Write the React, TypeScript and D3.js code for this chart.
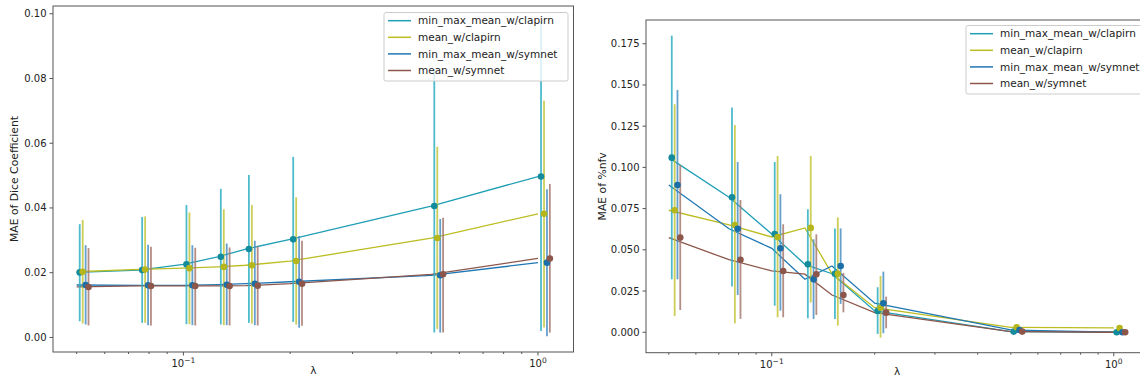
import React from "react";
import * as d3 from "d3";

const lambdas = [0.05, 0.075, 0.1, 0.125, 0.15, 0.2, 0.5, 1.0];
const seriesNames = ["min_max_mean_w/clapirn", "mean_w/clapirn", "min_max_mean_w/symnet", "mean_w/symnet"];

// Left panel: MAE of Dice Coefficient
const diceMinMaxClapirn = [0.0201, 0.0208, 0.0226, 0.0249, 0.0273, 0.0303, 0.0406, 0.0497];
const diceMinMaxClapirnLo = [0.005, 0.0045, 0.0041, 0.004, 0.0045, 0.0048, 0.0015, 0.002];
const diceMinMaxClapirnHi = [0.035, 0.0372, 0.0409, 0.0459, 0.0502, 0.0558, 0.083, 0.0976];
const diceMeanClapirn = [0.0203, 0.021, 0.0214, 0.0218, 0.0223, 0.0236, 0.0307, 0.0382];
const diceMeanClapirnLo = [0.0043, 0.0045, 0.0041, 0.0038, 0.0043, 0.004, 0.0026, 0.0031];
const diceMeanClapirnHi = [0.0363, 0.0374, 0.0386, 0.0396, 0.0409, 0.0433, 0.0589, 0.0731];
const diceMinMaxSymnet = [0.0162, 0.0161, 0.0161, 0.0163, 0.0166, 0.0172, 0.0192, 0.0231];
const diceMinMaxSymnetLo = [0.004, 0.0038, 0.0038, 0.0038, 0.0038, 0.003, 0.0015, 0.0004];
const diceMinMaxSymnetHi = [0.0285, 0.0286, 0.0285, 0.029, 0.0299, 0.0313, 0.0366, 0.0458];
const diceMeanSymnet = [0.0156, 0.0159, 0.0159, 0.0159, 0.016, 0.0166, 0.0195, 0.0244];
const diceMeanSymnetLo = [0.0037, 0.0037, 0.0037, 0.0037, 0.0037, 0.0036, 0.0015, 0.0015];
const diceMeanSymnetHi = [0.0276, 0.028, 0.0277, 0.0278, 0.0282, 0.0299, 0.037, 0.0474];

// Right panel: MAE of %nfv
const nfvMinMaxClapirn = [0.1059, 0.0819, 0.0596, 0.0412, 0.0355, 0.0129, 0.0004, 0.0];
const nfvMinMaxClapirnLo = [0.0321, 0.0277, 0.0161, 0.0085, 0.0081, -0.001, 0.0, 0.0];
const nfvMinMaxClapirnHi = [0.1799, 0.1364, 0.1033, 0.0746, 0.063, 0.0273, 0.0008, 0.0];
const nfvMeanClapirn = [0.074, 0.0651, 0.0578, 0.0633, 0.0355, 0.0149, 0.003, 0.0026];
const nfvMeanClapirnLo = [0.0099, 0.0054, 0.0091, 0.018, 0.004, -0.0033, 0.0018, 0.0016];
const nfvMeanClapirnHi = [0.1383, 0.1257, 0.1069, 0.1069, 0.0697, 0.0341, 0.0042, 0.0036];
const nfvMinMaxSymnet = [0.0893, 0.0628, 0.0509, 0.0321, 0.0402, 0.0176, 0.0014, 0.0];
const nfvMinMaxSymnetLo = [0.0321, 0.0226, 0.0131, 0.0081, 0.0172, -0.0006, 0.0008, 0.0];
const nfvMinMaxSymnetHi = [0.147, 0.1033, 0.0837, 0.0564, 0.063, 0.0368, 0.002, 0.0];
const nfvMeanSymnet = [0.0574, 0.044, 0.0372, 0.0352, 0.0226, 0.0119, 0.0004, 0.0];
const nfvMeanSymnetLo = [0.0135, 0.0081, 0.0091, 0.0105, 0.0121, 0.0024, 0.0, 0.0];
const nfvMeanSymnetHi = [0.1015, 0.0802, 0.0655, 0.0594, 0.036, 0.0216, 0.0008, 0.0];

const jitter = [1.02, 1.04, 1.06, 1.08];
const diceTicks = [0, 0.02, 0.04, 0.06, 0.08, 0.1];
const nfvTicks = [0, 0.025, 0.05, 0.075, 0.1, 0.125, 0.15, 0.175];

const lineColors = ["#1f9fb5", "#bcbd22", "#1f77b4", "#8c564b"];
const markerColors = ["#128b9c", "#b5b61c", "#1a6fa9", "#8c564b"];
const barColors = ["#2fb0c4", "#c5c63a", "#4a90c4", "#a77a70"];

const FONT = "DejaVu Sans, sans-serif";

type S = { mean: number[]; lo: number[]; hi: number[] };

const diceSeries: S[] = [
  { mean: diceMinMaxClapirn, lo: diceMinMaxClapirnLo, hi: diceMinMaxClapirnHi },
  { mean: diceMeanClapirn, lo: diceMeanClapirnLo, hi: diceMeanClapirnHi },
  { mean: diceMinMaxSymnet, lo: diceMinMaxSymnetLo, hi: diceMinMaxSymnetHi },
  { mean: diceMeanSymnet, lo: diceMeanSymnetLo, hi: diceMeanSymnetHi },
];
const nfvSeries: S[] = [
  { mean: nfvMinMaxClapirn, lo: nfvMinMaxClapirnLo, hi: nfvMinMaxClapirnHi },
  { mean: nfvMeanClapirn, lo: nfvMeanClapirnLo, hi: nfvMeanClapirnHi },
  { mean: nfvMinMaxSymnet, lo: nfvMinMaxSymnetLo, hi: nfvMinMaxSymnetHi },
  { mean: nfvMeanSymnet, lo: nfvMeanSymnetLo, hi: nfvMeanSymnetHi },
];

function Panel(props: {
  left: number; right: number; top: number; bottom: number;
  series: S[]; yTicks: number[]; yFmt: (v: number) => string; yLabel: string; yLabelOff: number;
  yDomain: [number, number]; legend: { x: number; y: number; w: number };
}) {
  const { left, right, top, bottom, series, yTicks, yFmt, yLabel, yLabelOff, yDomain, legend } = props;
  const logMin = Math.log10(0.05), logMax = Math.log10(1.08);
  const span = logMax - logMin;
  const x = d3.scaleLog().domain([Math.pow(10, logMin - 0.05 * span), Math.pow(10, logMax + 0.05 * span)]).range([left, right]);
  const y = d3.scaleLinear().domain(yDomain).range([bottom, top]);
  const clipId = "clip" + left;
  const minor: number[] = [];
  for (const dec of [0.01, 0.1]) for (let k = 2; k <= 9; k++) {
    const v = k * dec;
    if (v >= x.domain()[0] && v <= x.domain()[1]) minor.push(v);
  }
  const line = d3.line<number>().x((_, i) => x(lambdas[i])).y((d) => y(d));
  const cx = (left + right) / 2;
  const cy = (top + bottom) / 2;
  return (
    <g>
      <g clipPath={`url(#${clipId})`}>
        <clipPath id={clipId}><rect x={left} y={top} width={right - left} height={bottom - top} /></clipPath>
        {series.map((s, si) => (
          <path key={"l" + si} d={line(s.mean) || ""} fill="none" stroke={lineColors[si]} strokeWidth={1.3} />
        ))}
        {series.map((s, si) => (
          <g key={"e" + si}>
            {lambdas.map((l, i) => (
              <line key={i} x1={x(l * jitter[si])} x2={x(l * jitter[si])} y1={y(s.lo[i])} y2={y(s.hi[i])}
                stroke={barColors[si]} strokeWidth={1.8} opacity={0.85} />
            ))}
          </g>
        ))}
        {series.map((s, si) => (
          <g key={"m" + si}>
            {lambdas.map((l, i) => (
              <circle key={i} cx={x(l * jitter[si])} cy={y(s.mean[i])} r={3.3} fill={markerColors[si]} />
            ))}
          </g>
        ))}
      </g>
      <rect x={left} y={top} width={right - left} height={bottom - top} fill="none" stroke="#555" strokeWidth={1} />
      {yTicks.map((t) => (
        <g key={t}>
          <line x1={left - 3.5} x2={left} y1={y(t)} y2={y(t)} stroke="#555" />
          <text x={left - 6.5} y={y(t)} dy="0.35em" textAnchor="end" fontFamily={FONT} fontSize={10} fill="#222">{yFmt(t)}</text>
        </g>
      ))}
      {minor.map((t) => (
        <line key={t} x1={x(t)} x2={x(t)} y1={bottom} y2={bottom + 2} stroke="#555" />
      ))}
      {[0.1, 1].map((t, i) => (
        <g key={t}>
          <line x1={x(t)} x2={x(t)} y1={bottom} y2={bottom + 3.5} stroke="#555" />
          <text x={x(t)} y={bottom + 15} textAnchor="middle" fontFamily={FONT} fontSize={10} fill="#222">
            10<tspan dy={-4} fontSize={7.5}>{i === 0 ? "−1" : "0"}</tspan>
          </text>
        </g>
      ))}
      <text x={cx} y={bottom + 22} textAnchor="middle" fontFamily={FONT} fontSize={10.5} fill="#222">λ</text>
      <text transform={`translate(${left - yLabelOff},${cy}) rotate(-90)`} textAnchor="middle" fontFamily={FONT} fontSize={10.8} fill="#222">{yLabel}</text>
      <g>
        <rect x={legend.x} y={legend.y} width={legend.w} height={68.5} rx={2} fill="white" fillOpacity={0.8} stroke="#cccccc" />
        {seriesNames.map((n, i) => (
          <g key={n}>
            <line x1={legend.x + 4} x2={legend.x + 27} y1={legend.y + 8.2 + i * 16.6} y2={legend.y + 8.2 + i * 16.6} stroke={lineColors[i]} strokeWidth={1.5} />
            <text x={legend.x + 34} y={legend.y + 8.2 + i * 16.6} dy="0.36em" fontFamily={FONT} fontSize={10.5} fill="#222">{n}</text>
          </g>
        ))}
      </g>
    </g>
  );
}

export default function App() {
  return (
    <svg width={1140} height={381} style={{ position: "absolute", left: 0, top: 0, background: "white" }}>
      <Panel left={53} right={573.5} top={6} bottom={352} series={diceSeries} yTicks={diceTicks}
        yFmt={(v) => v.toFixed(2)} yLabel="MAE of Dice Coefficient" yLabelOff={35} yDomain={[-0.0045, 0.1024]}
        legend={{ x: 384, y: 12.5, w: 184 }} />
      <Panel left={646} right={1148} top={20} bottom={352.7} series={nfvSeries} yTicks={nfvTicks}
        yFmt={(v) => v.toFixed(3)} yLabel="MAE of %nfv" yLabelOff={40} yDomain={[-0.0124, 0.1894]}
        legend={{ x: 966, y: 25.5, w: 184 }} />
    </svg>
  );
}
